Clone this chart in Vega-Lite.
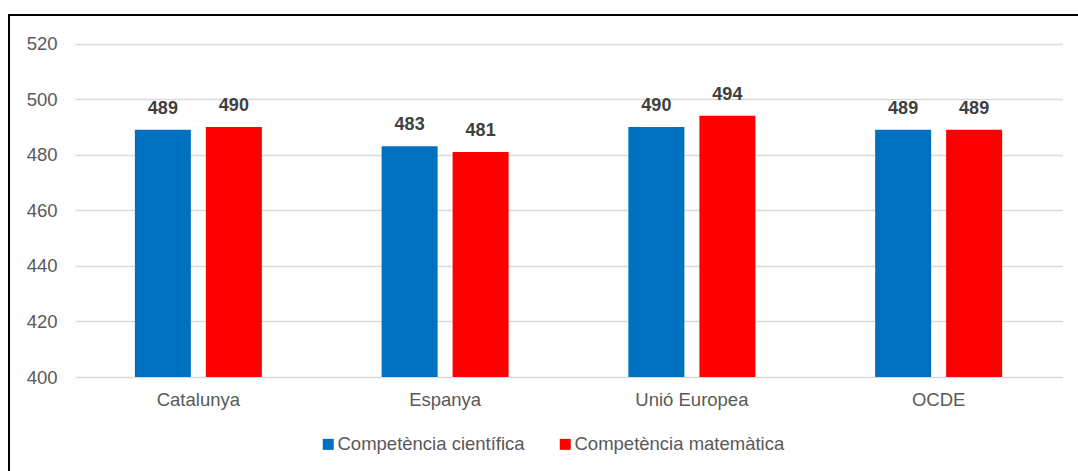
{
  "$schema": "https://vega.github.io/schema/vega-lite/v6.json",
  "autosize": "none",
  "padding": {"left": 9, "top": 15, "right": -5, "bottom": -5},
  "width": 1074,
  "height": 461,
  "background": "white",
  "config": {
    "font": "Liberation Sans",
    "view": {"stroke": "black", "strokeWidth": 2, "fill": "white"}
  },
  "data": {
    "values": [
      {"regio": "Catalunya", "competencia": "Competència científica", "valor": 489},
      {"regio": "Catalunya", "competencia": "Competència matemàtica", "valor": 490},
      {"regio": "Espanya", "competencia": "Competència científica", "valor": 483},
      {"regio": "Espanya", "competencia": "Competència matemàtica", "valor": 481},
      {"regio": "Unió Europea", "competencia": "Competència científica", "valor": 490},
      {"regio": "Unió Europea", "competencia": "Competència matemàtica", "valor": 494},
      {"regio": "OCDE", "competencia": "Competència científica", "valor": 489},
      {"regio": "OCDE", "competencia": "Competència matemàtica", "valor": 489}
    ]
  },
  "encoding": {
    "x": {
      "field": "regio", "type": "nominal", "sort": null,
      "scale": {"range": [66, 1053], "paddingInner": 0.4853, "paddingOuter": 0.24265},
      "axis": {"title": null, "orient": "bottom", "offset": -99, "labelPadding": 13, "ticks": false, "tickSize": 0, "domain": false, "labelAngle": 0, "labelFontSize": 18.5, "labelColor": "#595959", "grid": false}
    },
    "xOffset": {
      "field": "competencia", "type": "nominal",
      "scale": {"paddingInner": 0.2113, "paddingOuter": 0}
    },
    "y": {
      "field": "valor", "type": "quantitative",
      "scale": {"domain": [400, 520], "range": [362, 28.5], "zero": false, "nice": false},
      "axis": {"title": null, "values": [400, 420, 440, 460, 480, 500, 520], "offset": -56, "labelPadding": 8, "ticks": false, "tickSize": 0, "domain": false, "labelFontSize": 18.5, "labelColor": "#595959", "grid": true, "gridColor": "#D9D9D9", "gridWidth": 1.3}
    }
  },
  "layer": [
    {
      "mark": {"type": "bar"},
      "encoding": {
        "y2": {"datum": 400},
        "color": {
          "field": "competencia", "type": "nominal",
          "scale": {"domain": ["Competència científica", "Competència matemàtica"], "range": ["#0070C0", "#FF0000"]},
          "legend": {
            "title": null, "orient": "none", "direction": "horizontal", "legendX": 310, "legendY": 420,
            "symbolType": "square", "symbolSize": 121, "symbolStrokeWidth": 0, "symbolOpacity": 1,
            "labelFontSize": 18.5, "labelColor": "#595959", "labelOffset": 0, "labelLimit": 0, "columnPadding": 31, "padding": 0
          }
        }
      }
    },
    {
      "mark": {"type": "text", "fontSize": 18, "fontWeight": "bold", "color": "#404040", "baseline": "alphabetic", "dy": -16},
      "encoding": {
        "text": {"field": "valor", "type": "quantitative"}
      }
    }
  ]
}
